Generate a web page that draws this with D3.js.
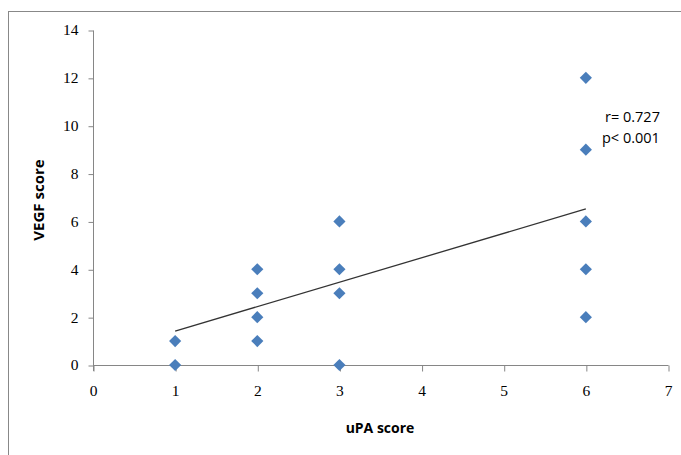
<!DOCTYPE html>
<html><head><meta charset="utf-8">
<script src="https://cdn.jsdelivr.net/npm/d3@7"></script>
<style>body{margin:0;background:#fff}svg{display:block}</style>
</head><body>
<svg id="c" width="681" height="455"></svg>
<script>
const uPA  = [1,1,2,2,2,2,3,3,3,3,6,6,6,6,6];
const VEGF = [0,1,1,2,3,4,0,3,4,6,2,4,6,9,12];
const trendX = [1,6];
const trendY = [1.42,6.52];
const xTicks = [0,1,2,3,4,5,6,7];
const yTicks = [0,2,4,6,8,10,12,14];
const annotation = ["r= 0.727","p< 0.001"];

const svg = d3.select("#c");
svg.append("rect").attr("x",8.5).attr("y",11.5).attr("width",700).attr("height",500)
  .attr("fill","none").attr("stroke","#888").attr("stroke-width",1);

const x = d3.scaleLinear().domain([0,7]).range([93,668]);
const y = d3.scaleLinear().domain([0,14]).range([365,30]);
const axisColor = "#868686";
const serif = "'Liberation Serif', 'DejaVu Serif', serif";
const sans = "'Open Sans', 'Liberation Sans', sans-serif";

// y axis
const ya = svg.append("g").attr("transform","translate(93.5,0)")
  .call(d3.axisLeft(y).tickValues(yTicks).tickSize(5).tickPadding(10).tickFormat(d3.format("d")));
ya.select(".domain").attr("stroke",axisColor).attr("d","M0,"+(y(14)+0.5)+"V"+(y(0)+6));
ya.selectAll(".tick line").attr("stroke",axisColor).attr("transform","translate(0,0.5)");
ya.selectAll("text").attr("font-family",serif).attr("font-size",15.5).attr("fill","#000");

// x axis
const xa = svg.append("g").attr("transform","translate(0,"+(y(0)+0.5)+")")
  .call(d3.axisBottom(x).tickValues(xTicks).tickSize(6).tickPadding(13).tickFormat(d3.format("d")));
xa.select(".domain").attr("stroke",axisColor).attr("d","M"+x(0)+",0H"+(x(7)+0.5));
xa.selectAll(".tick line").attr("stroke",axisColor).attr("transform","translate(0.5,0)");
xa.selectAll("text").attr("font-family",serif).attr("font-size",15.5).attr("fill","#000");

// trend line
svg.append("line").attr("x1",x(trendX[0])).attr("y1",y(trendY[0]))
  .attr("x2",x(trendX[1])).attr("y2",y(trendY[1]))
  .attr("stroke","#333").attr("stroke-width",1.3);

// points
svg.append("g").selectAll("path").data(uPA.map((u,i)=>[u,VEGF[i]])).join("path")
  .attr("d", d3.symbol().type(d3.symbolSquare).size(74))
  .attr("transform", d=>"translate("+x(d[0])+","+y(d[1])+") rotate(45)")
  .attr("fill","#4A7EBB");

// axis titles
svg.append("text").attr("x",380).attr("y",433).attr("text-anchor","middle")
  .attr("font-family",sans).attr("font-weight","bold").attr("font-size",14).text("uPA score");
svg.append("text").attr("transform","translate(44,200) rotate(-90)").attr("text-anchor","middle")
  .attr("font-family",sans).attr("font-weight","bold").attr("font-size",15).text("VEGF score");

// annotation
svg.append("text").attr("x",605).attr("y",122).attr("font-family",sans).attr("font-size",14.5).text(annotation[0]);
svg.append("text").attr("x",602).attr("y",143).attr("font-family",sans).attr("font-size",14.5).text(annotation[1]);
</script>
</body></html>
